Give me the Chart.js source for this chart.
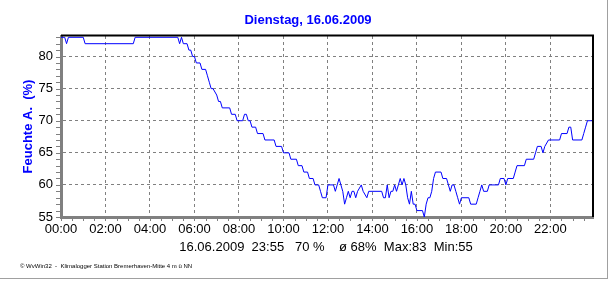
<!DOCTYPE html>
<html><head><meta charset="utf-8">
<script src="https://cdn.jsdelivr.net/npm/chart.js@4"></script>
<style>
html,body{margin:0;padding:0;background:#fff;}
#wrap{position:relative;width:612px;height:281px;overflow:hidden;}
#frame{position:absolute;left:0;top:0;width:607px;height:278px;border-right:1px solid #a0a0a0;border-bottom:1px solid #a0a0a0;pointer-events:none;}
canvas{display:block;}
</style></head><body>
<div id="wrap"><canvas id="c" width="612" height="281"></canvas><div id="frame"></div></div>
<script>
// ---- data (time of change, humidity %) ----
const times = [
 '00:00','00:10','00:15','00:20',
 '01:00','01:05',
 '03:15','03:20',
 '05:15','05:20','05:25','05:30','05:40','05:45','05:50','05:55',
 '06:00','06:05','06:15','06:20','06:30','06:35','06:40','06:45','06:50',
 '07:00','07:05','07:10','07:15','07:35','07:40','07:50','07:55',
 '08:10','08:15','08:20','08:25','08:30','08:35','08:45','08:50',
 '09:05','09:10','09:35','09:40','09:55',
 '10:00','10:15','10:20','10:35','10:40','10:50','10:55',
 '11:05','11:10','11:20','11:25','11:35','11:40','11:45','11:55',
 '12:00','12:15','12:20','12:25','12:30','12:35','12:40','12:45','12:50','12:55',
 '13:00','13:05','13:10','13:15','13:20','13:30','13:35','13:45','13:50',
 '14:25','14:30','14:35','14:40','14:45','14:50','14:55',
 '15:00','15:05','15:10','15:15','15:20','15:25','15:30','15:35','15:40','15:45','15:50','15:55',
 '16:00','16:15','16:20','16:25','16:30','16:35','16:40','16:45','16:50',
 '17:05','17:10','17:20','17:25','17:30','17:35','17:40','17:45','17:50','17:55',
 '18:00','18:20','18:25','18:40','18:45','18:50','18:55',
 '19:00','19:10','19:15','19:40','19:45','19:55',
 '20:00','20:05','20:20','20:25','20:30','20:50','20:55',
 '21:15','21:20','21:25','21:35','21:40','21:45','21:55',
 '22:25','22:30','22:45','22:50','22:55',
 '23:00','23:25','23:30','23:35','23:40','23:55'
];
const humidity = [
 83,83,82,83,
 83,82,
 82,83,
 83,82,83,82,82,81,81,80,
 80,79,79,78,78,77,76,75,75,
 74,73,73,72,72,71,71,70,
 70,71,71,70,70,69,69,68,
 68,67,67,66,66,
 65,65,64,64,63,63,62,
 62,61,61,60,60,59,58,58,
 60,60,59,60,61,60,59,57,58,59,
 58,59,59,58,59,60,59,58,59,
 59,58,58,60,58,59,59,
 60,59,60,61,60,61,60,58,57,59,57,57,
 56,56,55,57,58,58,59,61,62,
 62,61,61,60,59,60,60,59,58,57,
 58,58,57,57,58,59,60,
 59,59,60,60,61,61,
 60,61,61,62,63,63,64,
 64,65,66,66,65,66,67,
 67,68,68,69,69,
 67,67,68,69,70,70
];
const xTickLabels = ['00:00','02:00','04:00','06:00','08:00','10:00','12:00','14:00','16:00','18:00','20:00','22:00'];
const yTickLabels = [55,60,65,70,75,80];
const titleText = 'Dienstag, 16.06.2009';
const yAxisTitle = 'Feuchte A.  (%)';
const infoText = '16.06.2009  23:55   70 %    \u00f8 68%  Max:83  Min:55';
const footerText = '\u00a9 WvWin32  -  Klimalogger Station Bremerhaven-Mitte 4 m \u00fc NN';

const toMin = s => { const p = s.split(':'); return (+p[0]) * 60 + (+p[1]); };
const points = times.map((t, i) => ({x: toMin(t), y: humidity[i]}));

const decor = {
  id: 'decor',
  afterDraw(chart) {
    const {ctx, chartArea: a, scales: {x, y}} = chart;
    ctx.save();
    // minor ticks
    ctx.strokeStyle = '#808080'; ctx.lineWidth = 1;
    ctx.beginPath();
    for (let v = 55; v <= 83; v++) {
      const py = Math.round(y.getPixelForValue(v)) + 0.5;
      ctx.moveTo(a.left - 5, py); ctx.lineTo(a.left - 1, py);
    }
    for (let m = 0; m <= 1435; m += 30) {
      const px = Math.round(x.getPixelForValue(m)) + 0.5;
      ctx.moveTo(px, a.bottom + 1); ctx.lineTo(px, a.bottom + 4);
    }
    ctx.stroke();
    // top & right frame
    ctx.strokeStyle = '#000'; ctx.lineWidth = 2;
    ctx.beginPath();
    ctx.moveTo(a.left, a.top - 0.5); ctx.lineTo(a.right + 1, a.top - 0.5);
    ctx.moveTo(a.right, a.top - 1); ctx.lineTo(a.right, a.bottom);
    ctx.stroke();
    // texts
    ctx.fillStyle = '#0000ff';
    ctx.font = 'bold 13px "Liberation Sans", Arial, sans-serif';
    ctx.textAlign = 'center'; ctx.textBaseline = 'middle';
    ctx.fillText(titleText, 308, 20);
    ctx.fillStyle = '#000';
    ctx.font = '13px "Liberation Sans Narrow", "Liberation Sans", Arial, sans-serif';
    ctx.fillText(infoText, 326, 247);
    ctx.font = '6px "Liberation Sans", Arial, sans-serif';
    ctx.textAlign = 'left';
    ctx.fillText(footerText, 20, 266);
    ctx.restore();
  }
};

new Chart(document.getElementById('c'), {
  type: 'line',
  data: { datasets: [{
    data: points,
    borderColor: '#0000ff', borderWidth: 1,
    pointRadius: 0, tension: 0, fill: false
  }]},
  options: {
    responsive: false, animation: false,
    layout: { padding: { left: 0, right: 19, top: 36, bottom: 44 } },
    plugins: { legend: { display: false }, tooltip: { enabled: false }, title: { display: false } },
    scales: {
      x: {
        type: 'linear', min: 0, max: 1435,
        afterFit(s) { s.height = 20; },
        afterBuildTicks(s) { s.ticks = xTickLabels.map(l => ({value: toMin(l)})); },
        grid: { color: '#808080', lineWidth: 1, drawTicks: false },
        border: { display: true, color: '#808080', width: 3, dash: [3, 3] },
        ticks: {
          color: '#000', padding: 5, maxRotation: 0, autoSkip: false,
          font: { family: '"Liberation Sans Narrow", "Liberation Sans", Arial, sans-serif', size: 13 },
          callback(v) { const i = xTickLabels.findIndex(l => toMin(l) === v); return i >= 0 ? xTickLabels[i] : ''; }
        }
      },
      y: {
        type: 'linear', min: 55, max: 83.2,
        afterFit(s) { s.width = 61; },
        afterBuildTicks(s) { s.ticks = yTickLabels.map(v => ({value: v})); },
        grid: { color: '#808080', lineWidth: 1, drawTicks: false },
        border: { display: true, color: '#808080', width: 3, dash: [3, 3] },
        title: { display: true, text: yAxisTitle, color: '#0000ff',
          font: { family: '"Liberation Sans", Arial, sans-serif', size: 13, weight: 'bold' },
          padding: { top: 21, bottom: 0 } },
        ticks: {
          color: '#000', padding: 8,
          font: { family: '"Liberation Sans", Arial, sans-serif', size: 13 },
          callback(v) { return String(v); }
        }
      }
    }
  },
  plugins: [decor]
});
</script>
</body></html>
